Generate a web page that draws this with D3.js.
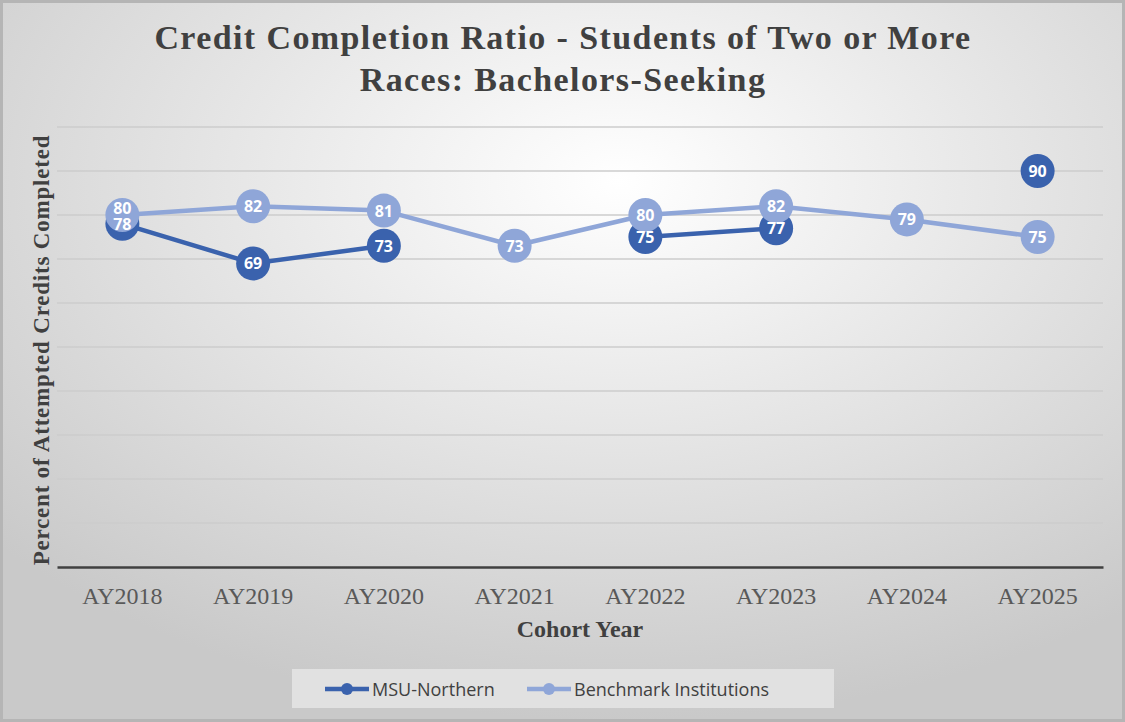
<!DOCTYPE html>
<html>
<head>
<meta charset="utf-8">
<script src="https://cdn.jsdelivr.net/npm/d3@7"></script>
<style>
  html, body { margin: 0; padding: 0; }
  body { width: 1125px; height: 722px; overflow: hidden; }
</style>
</head>
<body>
<div class="chart"></div>
<script>
// chart data
var years = ['AY2018', 'AY2019', 'AY2020', 'AY2021', 'AY2022', 'AY2023', 'AY2024', 'AY2025'];
var msuNorthern = [78, 69, 73, null, 75, 77, null, 90];
var benchmark = [80, 82, 81, 73, 80, 82, 79, 75];
var yTicks = [0, 10, 20, 30, 40, 50, 60, 70, 80, 90, 100];

var width = 1125;
var height = 722;
var plotLeft = 57, plotRight = 1103, plotTop = 127, plotBottom = 567;

var darkBlue = '#3a62ad';
var lightBlue = '#8fa6d8';
var serif = '"Liberation Serif", "DejaVu Serif", serif';
var sans = '"Open Sans", "Noto Sans", sans-serif';

var svg = d3.select('.chart')
            .append('svg')
            .attr('width', width)
            .attr('height', height);

// background
var grad = svg.append('defs').append('radialGradient')
              .attr('id', 'bg')
              .attr('cx', '55%').attr('cy', '25%').attr('r', '75%');
grad.append('stop').attr('offset', '0%').attr('stop-color', '#ffffff');
grad.append('stop').attr('offset', '100%').attr('stop-color', '#c9c9c9');

svg.append('rect')
   .attr('x', 1.5).attr('y', 1.5)
   .attr('width', width - 3).attr('height', height - 3)
   .attr('fill', 'url(#bg)')
   .attr('stroke', '#b5b5b5')
   .attr('stroke-width', 3);

var x = d3.scaleBand().domain(years).range([plotLeft, plotRight]);
var y = d3.scaleLinear().domain([0, 100]).range([plotBottom, plotTop]);
var cx = function(i) { return x(years[i]) + x.bandwidth() / 2; };

// gridlines
svg.append('g')
   .selectAll('line')
   .data(yTicks.slice(1))
   .enter()
   .append('line')
   .attr('x1', plotLeft).attr('x2', plotRight)
   .attr('y1', function(d) { return y(d); })
   .attr('y2', function(d) { return y(d); })
   .attr('stroke', '#cdcdcd')
   .attr('stroke-width', 1.5);

// x axis
var xAxis = svg.append('g')
               .attr('transform', 'translate(0,' + plotBottom + ')')
               .call(d3.axisBottom(x).tickSize(0).tickPadding(20));
xAxis.select('.domain').attr('stroke', '#404040').attr('stroke-width', 2.5);
xAxis.selectAll('text')
     .attr('font-family', serif)
     .attr('font-size', 24)
     .attr('fill', '#595959');

// titles
var title = svg.append('text')
               .attr('text-anchor', 'middle')
               .attr('font-family', serif)
               .attr('font-weight', 'bold')
               .attr('font-size', 34)
               .attr('letter-spacing', 1.4)
               .attr('fill', '#404040');
title.append('tspan').attr('x', 563).attr('y', 49).text('Credit Completion Ratio - Students of Two or More');
title.append('tspan').attr('x', 563).attr('y', 91).text('Races: Bachelors-Seeking');

svg.append('text')
   .attr('x', (plotLeft + plotRight) / 2)
   .attr('y', 637)
   .attr('text-anchor', 'middle')
   .attr('font-family', serif)
   .attr('font-weight', 'bold')
   .attr('font-size', 24)
   .attr('fill', '#404040')
   .text('Cohort Year');

svg.append('text')
   .attr('transform', 'translate(49,' + ((plotTop + plotBottom) / 2 + 3) + ') rotate(-90)')
   .attr('text-anchor', 'middle')
   .attr('font-family', serif)
   .attr('font-weight', 'bold')
   .attr('font-size', 23)
   .attr('letter-spacing', 0.8)
   .attr('fill', '#404040')
   .text('Percent of Attempted Credits Completed');

// series
var series = [
  { name: 'MSU-Northern', values: msuNorthern, color: darkBlue },
  { name: 'Benchmark Institutions', values: benchmark, color: lightBlue }
];

var line = d3.line()
             .defined(function(d) { return d != null; })
             .x(function(d, i) { return cx(i); })
             .y(function(d) { return y(d); });

series.forEach(function(s) {
  var g = svg.append('g');
  g.append('path')
   .datum(s.values)
   .attr('d', line)
   .attr('fill', 'none')
   .attr('stroke', s.color)
   .attr('stroke-width', 4.5)
   .attr('stroke-linejoin', 'round');
  g.selectAll('circle')
   .data(s.values.map(function(v, i) { return { v: v, i: i }; })
                 .filter(function(d) { return d.v != null; }))
   .enter()
   .append('circle')
   .attr('cx', function(d) { return cx(d.i); })
   .attr('cy', function(d) { return y(d.v); })
   .attr('r', 17)
   .attr('fill', s.color);
});

// label positions, nudging the upper label up when two labels collide
var labelY = function(s, d) {
  var other = s.values === msuNorthern ? benchmark : msuNorthern;
  var o = other[d.i];
  var py = y(d.v);
  if (o != null && d.v > o && (y(o) - py) < 16) py -= 16 - (y(o) - py);
  return py;
};

series.forEach(function(s) {
  svg.append('g')
     .selectAll('text')
     .data(s.values.map(function(v, i) { return { v: v, i: i }; })
                   .filter(function(d) { return d.v != null; }))
     .enter()
     .append('text')
     .attr('x', function(d) { return cx(d.i); })
     .attr('y', function(d) { return labelY(s, d) + 6; })
     .attr('text-anchor', 'middle')
     .attr('font-family', sans)
     .attr('font-weight', 'bold')
     .attr('font-size', 16)
     .attr('fill', '#ffffff')
     .text(function(d) { return d.v; });
});

// legend
var legend = svg.append('g');
legend.append('rect')
      .attr('x', 292).attr('y', 669)
      .attr('width', 542).attr('height', 39)
      .attr('fill', '#e3e3e3')
      .attr('opacity', 0.9);

var legendX = [325, 527];
series.forEach(function(s, i) {
  var lx = legendX[i];
  legend.append('line')
        .attr('x1', lx).attr('x2', lx + 44)
        .attr('y1', 689).attr('y2', 689)
        .attr('stroke', s.color)
        .attr('stroke-width', 4.5);
  legend.append('circle')
        .attr('cx', lx + 22).attr('cy', 689)
        .attr('r', 6)
        .attr('fill', s.color);
  legend.append('text')
        .attr('x', lx + 47).attr('y', 696)
        .attr('font-family', sans)
        .attr('font-size', 18)
        .attr('fill', '#404040')
        .text(s.name);
});
</script>
</body>
</html>
